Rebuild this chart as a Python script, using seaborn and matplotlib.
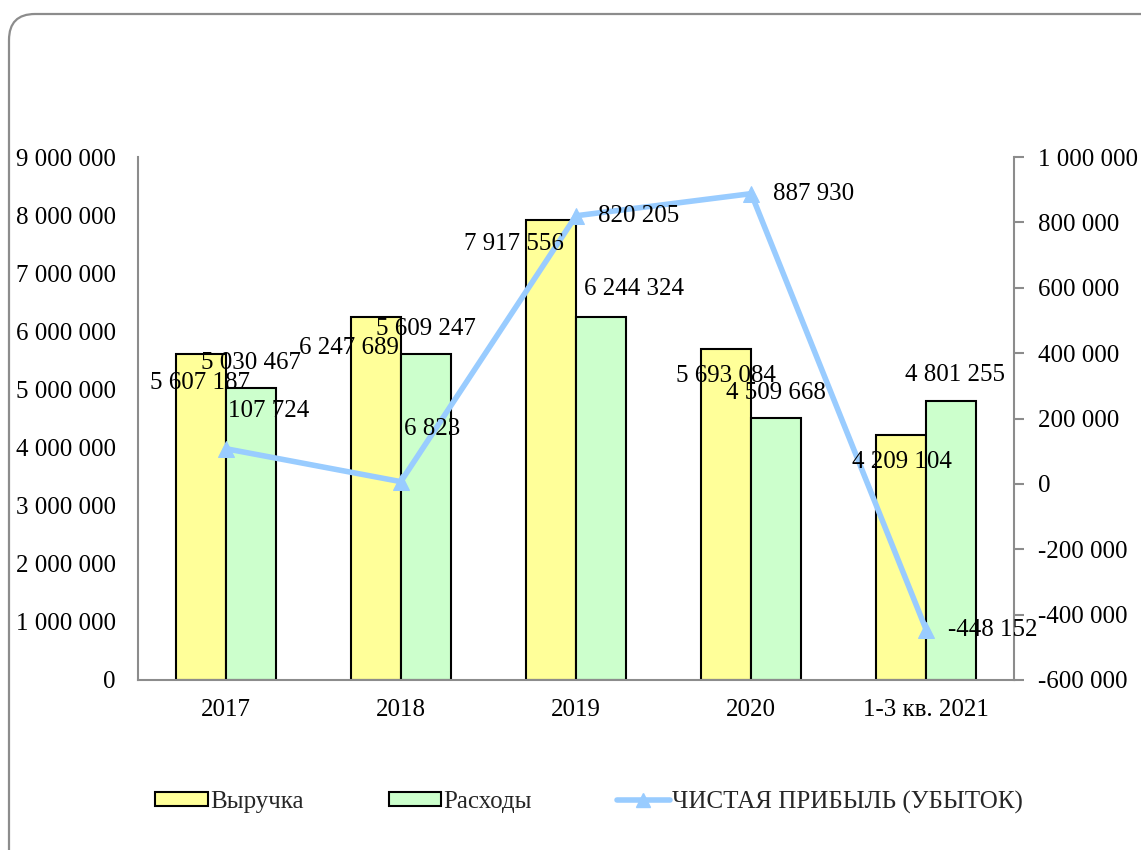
import numpy as np
import pandas as pd
import matplotlib
matplotlib.use('Agg')
import matplotlib.pyplot as plt
import seaborn as sns
from matplotlib.patches import FancyBboxPatch, Patch
from matplotlib.lines import Line2D
from matplotlib.transforms import IdentityTransform
from matplotlib.ticker import FuncFormatter, FixedLocator

# ---------------- data ----------------
categories = ['2017', '2018', '2019', '2020', '1-3 кв. 2021']
revenue = [5607187, 6247689, 7917556, 5693084, 4209104]
expenses = [5030467, 5609247, 6244324, 4509668, 4801255]
net_profit = [107724, 6823, 820205, 887930, -448152]
series_names = ['Выручка', 'Расходы', 'ЧИСТАЯ ПРИБЫЛЬ (УБЫТОК)']
left_ticks = [0, 1000000, 2000000, 3000000, 4000000, 5000000, 6000000, 7000000, 8000000, 9000000]
right_ticks = [-600000, -400000, -200000, 0, 200000, 400000, 600000, 800000, 1000000]

# ---------------- style ----------------
YELLOW = '#FFFF99'
GREEN = '#CCFFCC'
BLUE = '#99CCFF'
GRAY = '#8C8C8C'
FS = 18

# label offsets in pixels (dx, dy up)
rev_off = [(-1, -29), (-27, -31), (-37, -24), (0, -27), (1, -27)]
exp_off = [(0, 25), (0, 25), (33, 28), (0, 25), (4, 26)]
prof_off = [(43, 38), (31, 53), (22, 0), (22, 0), (22, 0)]
prof_ha = ['center', 'center', 'left', 'left', 'left']

sns.set_theme(style='white')
plt.rcParams['font.family'] = ['Liberation Serif', 'DejaVu Serif']

W, H = 1141, 850
fig = plt.figure(figsize=(W / 100, H / 100), dpi=100)

# rounded frame
frame = FancyBboxPatch((9, -30), W + 40, H - 14 + 30,
                       boxstyle='round,pad=0,rounding_size=26',
                       transform=IdentityTransform(), facecolor='none',
                       edgecolor=GRAY, linewidth=1.6, zorder=0)
fig.patches.append(frame)

ax = fig.add_axes([138 / W, 1 - 680 / H, (1014 - 138) / W, (680 - 157) / H])

df = pd.DataFrame({
    'cat': categories * 2,
    'val': revenue + expenses,
    'series': [series_names[0]] * len(categories) + [series_names[1]] * len(categories),
})
sns.barplot(data=df, x='cat', y='val', hue='series', palette=[YELLOW, GREEN],
            edgecolor='black', linewidth=1.5, width=0.57, saturation=1,
            errorbar=None, legend=False, ax=ax)

ax.set_xlim(-0.5, len(categories) - 0.5)
ax.set_ylim(left_ticks[0], left_ticks[-1])
ax.yaxis.set_major_locator(FixedLocator(left_ticks))
fmt = FuncFormatter(lambda v, p: f'{int(round(v)):,}'.replace(',', ' '))
ax.yaxis.set_major_formatter(fmt)
ax.set_xlabel('')
ax.set_ylabel('')
ax.grid(False)
ax.tick_params(axis='y', length=0, pad=16, labelsize=FS, colors='black')
ax.tick_params(axis='x', length=0, pad=14, labelsize=FS, colors='black')
for s in ['top', 'right']:
    ax.spines[s].set_visible(False)
for s in ['left', 'bottom']:
    ax.spines[s].set_color(GRAY)
    ax.spines[s].set_linewidth(1.5)

ax2 = ax.twinx()
xpos = np.arange(len(categories))
sns.lineplot(x=xpos, y=net_profit, ax=ax2, color=BLUE, linewidth=4,
             marker='^', markersize=11, markeredgecolor=BLUE, markerfacecolor=BLUE)
ax2.set_xlim(-0.5, len(categories) - 0.5)
ax2.set_ylim(right_ticks[0], right_ticks[-1])
ax2.yaxis.set_major_locator(FixedLocator(right_ticks))
ax2.yaxis.set_major_formatter(fmt)
ax2.set_ylabel('')
ax2.grid(False)
ax2.tick_params(axis='y', direction='out', length=7, width=1.5, color=GRAY,
                pad=10, labelsize=FS, labelcolor='black', right=True)
for s in ['top', 'left', 'bottom']:
    ax2.spines[s].set_visible(False)
ax2.spines['right'].set_color(GRAY)
ax2.spines['right'].set_linewidth(1.5)

fmt_num = lambda v: f'{v:,}'.replace(',', ' ')

# bar labels (drawn on top axes so they sit above everything)
rev_bars = ax.containers[0]
exp_bars = ax.containers[1]
for bars, vals, offs in [(rev_bars, revenue, rev_off), (exp_bars, expenses, exp_off)]:
    for b, v, (dx, dy) in zip(bars, vals, offs):
        ax2.annotate(fmt_num(v), xy=(b.get_x() + b.get_width() / 2, b.get_height()),
                     xycoords=ax.transData, xytext=(dx, dy), textcoords='offset pixels',
                     ha='center', va='center', fontsize=FS, color='black', zorder=10)

for x, v, (dx, dy), ha in zip(xpos, net_profit, prof_off, prof_ha):
    ax2.annotate(fmt_num(v), xy=(x, v), xycoords=ax2.transData, xytext=(dx, dy),
                 textcoords='offset pixels', ha=ha, va='center', fontsize=FS,
                 color='black', zorder=10)

handles = [
    Patch(facecolor=YELLOW, edgecolor='black', linewidth=1.5),
    Patch(facecolor=GREEN, edgecolor='black', linewidth=1.5),
    Line2D([0], [0], color=BLUE, linewidth=4, marker='^', markersize=10,
           markeredgecolor=BLUE, markerfacecolor=BLUE),
]
fig.legend(handles, series_names, loc='center', bbox_to_anchor=(589 / W, 1 - 802 / H),
           ncol=3, frameon=False, fontsize=FS, handlelength=2.1, handleheight=0.5,
           handletextpad=0.1, columnspacing=3.4)

fig.savefig('out.png', dpi=100)
